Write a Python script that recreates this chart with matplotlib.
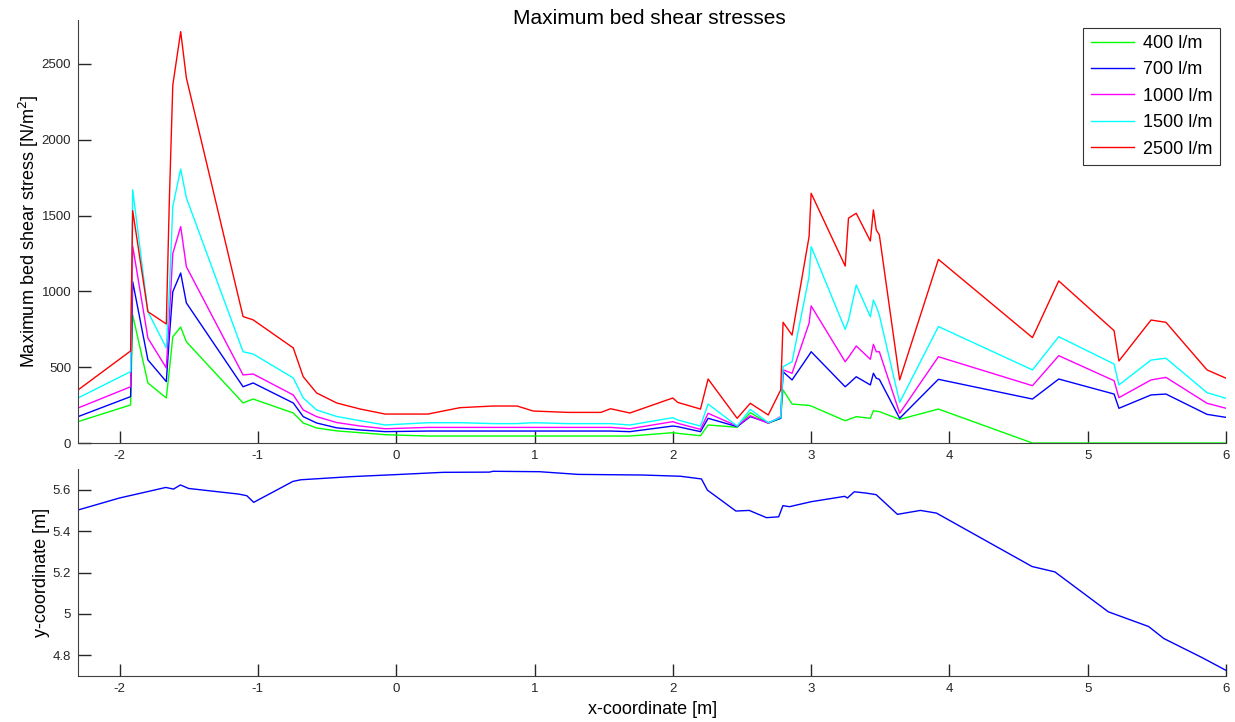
import matplotlib
matplotlib.use("Agg")
import matplotlib.pyplot as plt
from matplotlib.ticker import FormatStrFormatter

plt.rcParams['font.family'] = ['Liberation Sans', 'DejaVu Sans']
plt.rcParams['axes.unicode_minus'] = False

# x positions along the cross-section [m]
x = [-2.30, -1.92, -1.905, -1.795, -1.662, -1.64, -1.615, -1.558, -1.517,
     -1.107, -1.034, -0.744, -0.672, -0.575, -0.43, -0.26, -0.08, 0.23,
     0.46, 0.70, 0.875, 0.99, 1.24, 1.48, 1.55, 1.69, 2.0, 2.035, 2.20,
     2.255, 2.465, 2.56, 2.69, 2.78, 2.797, 2.862, 2.985, 3.0, 3.246, 3.27,
     3.326, 3.428, 3.45, 3.471, 3.493, 3.64, 3.92, 4.60, 4.79, 5.19, 5.225,
     5.457, 5.565, 5.862, 6.0]

# maximum bed shear stress per discharge [N/m2]
tau_400 = [141, 251, 845, 396, 297, 480, 701, 765, 668,
           264, 290, 198, 132, 99, 80, 68, 55, 46,
           46, 46, 46, 46, 46, 46, 46, 46, 68, 64, 48,
           119, 104, 200, 130, 163, 350, 257, 248, 244, 147, 155,
           174, 163, 213, 210, 207, 156, 224, 0, 0, 0, 0,
           0, 0, 0, 0]
tau_700 = [174, 306, 1064, 548, 405, 700, 998, 1121, 924,
           371, 396, 264, 174, 132, 100, 86, 75, 79,
           79, 79, 79, 79, 79, 79, 79, 75, 112, 108, 75,
           163, 108, 174, 134, 163, 470, 416, 580, 602, 371, 390,
           437, 383, 460, 427, 420, 163, 420, 290, 422, 323, 229,
           317, 323, 189, 169]
tau_1000 = [231, 371, 1299, 692, 495, 830, 1250, 1427, 1163,
            449, 455, 317, 218, 174, 135, 112, 94, 103,
            103, 103, 103, 103, 103, 103, 103, 94, 141, 130, 90,
            196, 112, 180, 130, 174, 482, 460, 790, 904, 536, 565,
            640, 552, 651, 602, 602, 196, 569, 378, 576, 411, 299,
            416, 433, 262, 229]
tau_1500 = [297, 471, 1670, 866, 627, 1000, 1560, 1807, 1617,
            602, 587, 429, 297, 218, 175, 147, 119, 134,
            134, 128, 128, 134, 128, 128, 128, 119, 167, 152, 112,
            257, 112, 222, 134, 169, 503, 536, 1097, 1295, 750, 810,
            1042, 833, 943, 899, 844, 268, 768, 482, 701, 521, 383,
            547, 559, 332, 295]
tau_2500 = [350, 607, 1533, 866, 785, 1600, 2360, 2713, 2408,
            834, 812, 627, 437, 330, 264, 224, 191, 191,
            233, 244, 244, 211, 202, 202, 226, 198, 297, 268, 224,
            422, 163, 262, 185, 350, 796, 712, 1361, 1647, 1167, 1483,
            1515, 1332, 1537, 1405, 1372, 416, 1211, 695, 1069, 741, 541,
            811, 796, 482, 427]

series = [("400 l/m", tau_400, (0, 1, 0)),
          ("700 l/m", tau_700, (0, 0, 1)),
          ("1000 l/m", tau_1000, (1, 0, 1)),
          ("1500 l/m", tau_1500, (0, 1, 1)),
          ("2500 l/m", tau_2500, (1, 0, 0))]

# bed profile
x_bed = [-2.30, -2.0, -1.75, -1.666, -1.61, -1.56, -1.50, -1.14, -1.08,
         -1.03, -0.747, -0.69, -0.33, 0.0, 0.34, 0.674, 0.70, 1.036, 1.315,
         1.78, 2.055, 2.207, 2.25, 2.456, 2.552, 2.677, 2.765, 2.796, 2.843,
         3.0, 3.243, 3.262, 3.312, 3.395, 3.47, 3.624, 3.79, 3.906, 4.597,
         4.762, 5.149, 5.44, 5.55, 5.826, 6.0]
y_bed = [5.502, 5.56, 5.598, 5.611, 5.603, 5.623, 5.606, 5.579, 5.571,
         5.539, 5.64, 5.648, 5.663, 5.673, 5.684, 5.685, 5.689, 5.687, 5.674,
         5.671, 5.665, 5.652, 5.598, 5.497, 5.50, 5.465, 5.469, 5.523, 5.518,
         5.542, 5.568, 5.56, 5.59, 5.584, 5.576, 5.481, 5.50, 5.487, 5.229,
         5.203, 5.01, 4.939, 4.881, 4.789, 4.727]

fig = plt.figure(figsize=(12.35, 7.22), dpi=100)
ax1 = fig.add_axes([0.0632, 0.3864, 0.9296, 0.586])
ax2 = fig.add_axes([0.0632, 0.0637, 0.9296, 0.2867])

for label, vals, col in series:
    ax1.plot(x, vals, color=col, lw=1.0, label=label)

ax2.plot(x_bed, y_bed, color=(0, 0, 1), lw=1.0)

for ax in (ax1, ax2):
    ax.set_xlim(-2.30, 6.0)
    ax.set_xticks(range(-2, 7))
    for s in ("top", "right"):
        ax.spines[s].set_visible(False)
    for s in ("left", "bottom"):
        ax.spines[s].set_color("#404040")
    ax.tick_params(direction="in", length=9, width=1, colors="#262626",
                   labelsize=9.5, pad=5)

ax1.set_ylim(0, 2790)
ax1.set_yticks([0, 500, 1000, 1500, 2000, 2500])
ax1.set_ylabel("Maximum bed shear stress [N/m$^2$]", fontsize=13, labelpad=0)
fig.text(0.526, 1 - 19 / 722, "Maximum bed shear stresses", fontsize=15,
         ha="center", va="center")

ax2.set_ylim(4.7, 5.7)
ax2.set_yticks([4.8, 5.0, 5.2, 5.4, 5.6])
ax2.yaxis.set_major_formatter(FormatStrFormatter("%g"))
ax2.set_ylabel("y-coordinate [m]", fontsize=13, labelpad=2)
ax2.set_xlabel("x-coordinate [m]", fontsize=13, labelpad=4)

leg = ax1.legend(loc="upper right", bbox_to_anchor=(0.9975, 0.99),
                 fontsize=13, frameon=True, fancybox=False,
                 handlelength=2.4, borderpad=0.4, labelspacing=0.52,
                 handletextpad=0.5, borderaxespad=0.2)
leg.get_frame().set_edgecolor("black")
leg.get_frame().set_linewidth(0.8)

fig.savefig("out.png", dpi=100)
